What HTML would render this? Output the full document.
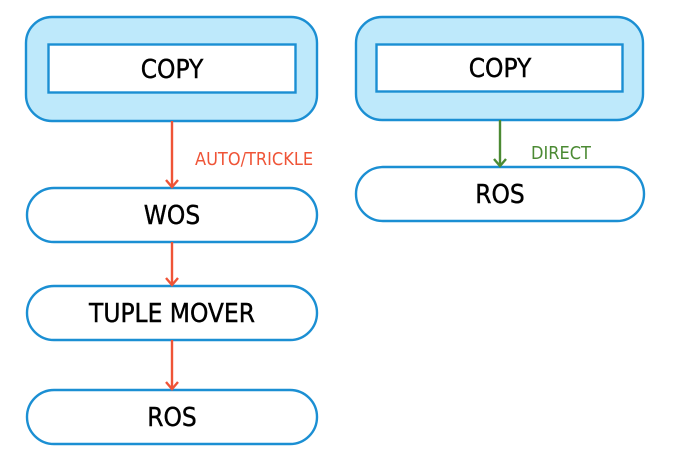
<!DOCTYPE html>
<html><head><style>body{margin:0;background:#fff}</style></head><body>
<svg width="679" height="466" xmlns="http://www.w3.org/2000/svg" font-family="'DejaVu Sans Condensed','Liberation Sans',sans-serif">
<g stroke="#1b8fd3" stroke-width="2.4">
<rect x="26" y="17" width="291" height="104" rx="26" fill="#bee9fb"/>
<rect x="48.5" y="44.5" width="247" height="48" fill="#fff"/>
<rect x="356" y="17" width="287" height="103" rx="26" fill="#bee9fb"/>
<rect x="376.5" y="44.5" width="246" height="47" fill="#fff"/>
<rect x="27" y="188" width="290" height="54" rx="27" fill="#fff"/>
<rect x="27" y="286" width="290" height="54" rx="27" fill="#fff"/>
<rect x="27" y="390" width="290" height="54" rx="27" fill="#fff"/>
<rect x="356" y="167" width="288" height="54" rx="27" fill="#fff"/>
</g>
<g stroke="#ef5437" stroke-width="2.4" fill="none">
<line x1="172" y1="121" x2="172" y2="187"/><polyline points="166,180 172,187 178,180"/>
<line x1="172" y1="242" x2="172" y2="285"/><polyline points="166,278 172,285 178,278"/>
<line x1="172" y1="340" x2="172" y2="389"/><polyline points="166,382 172,389 178,382"/>
</g>
<g stroke="#4b8a33" stroke-width="2.4" fill="none">
<line x1="500" y1="120" x2="500" y2="166"/><polyline points="494,159 500,166 506,159"/>
</g>
<g font-size="26" text-anchor="middle" fill="#000" stroke="#000" stroke-width="0.4">
<text x="172" y="78">COPY</text>
<text x="500" y="77">COPY</text>
<text x="172" y="224">WOS</text>
<text x="172" y="322">TUPLE MOVER</text>
<text x="172" y="426">ROS</text>
<text x="500" y="203">ROS</text>
</g>
<text x="195" y="165" font-size="18" fill="#ef5437">AUTO/TRICKLE</text>
<text x="531" y="159" font-size="18" fill="#4b8a33">DIRECT</text>
</svg>
</body></html>
